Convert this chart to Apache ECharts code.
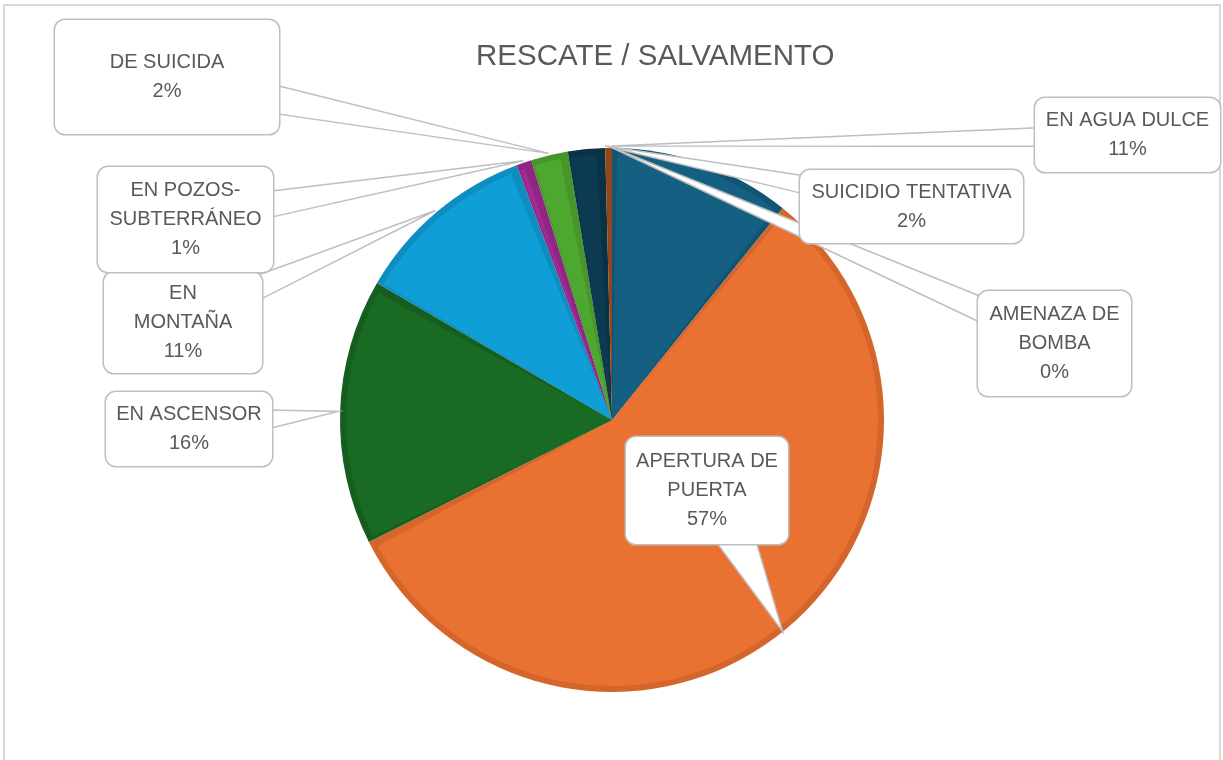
<!DOCTYPE html>
<html>
<head>
<meta charset="utf-8">
<script src="https://cdn.jsdelivr.net/npm/echarts@6/dist/echarts.min.js"></script>
<style>
  html, body { margin: 0; padding: 0; background: #fff; }
  #main { width: 1223px; height: 760px; }
</style>
</head>
<body>
<div id="main"></div>
<script>
const categories = ['EN AGUA DULCE', 'APERTURA DE PUERTA', 'EN ASCENSOR', 'EN MONTAÑA',
  'EN POZOS-SUBTERRÁNEO', 'DE SUICIDA', 'SUICIDIO TENTATIVA', 'AMENAZA DE BOMBA'];
const values = [10.8, 56.8, 15.8, 10.9, 0.9, 2.2, 2.2, 0.4];
const labelNames = ['EN AGUA DULCE', 'APERTURA DE\nPUERTA', 'EN ASCENSOR', 'EN\nMONTAÑA',
  'EN POZOS-\nSUBTERRÁNEO', 'DE SUICIDA', 'SUICIDIO TENTATIVA', 'AMENAZA DE\nBOMBA'];

const sliceColors = ['#156082', '#e97132', '#196b24', '#0f9ed5', '#a02b93', '#4ea72e', '#0c3a50', '#a84f1e'];
const bevelColors = ['#125473', '#d4652b', '#165e20', '#0d8ebf', '#8f2684', '#46962a', '#0a3245', '#944519'];

// callout boxes: [left, top, width, height]
const calloutBoxes = [
  [1035, 98, 185, 74],
  [626, 437, 162, 107],
  [106, 392, 166, 74],
  [104, 272, 158, 101],
  [98, 167, 175, 105],
  [55, 20, 224, 114],
  [800, 170, 223, 73],
  [978, 291, 153, 105]
];
// where along each slice the callout pointer lands (0 = start, 1 = end)
const pointerAt = [0, 0.5, 0.5, 0.5, 0.5, 0.5, 1, 0.5];

const FONT = '"Liberation Sans", Arial, sans-serif';
const TEXT = '#595959';
const LINE_H = 29;
const CENTER = [612, 420];
const R = 272;

const chart = echarts.init(document.getElementById('main'));

chart.setOption({
  animation: false,
  backgroundColor: '#fff',
  title: {
    text: 'RESCATE / SALVAMENTO',
    left: 471,
    top: 37,
    textStyle: { color: TEXT, fontSize: 29.5, fontWeight: 'normal', fontFamily: FONT }
  },
  series: [
    {
      // darker base gives the bevelled edge
      type: 'pie',
      center: CENTER,
      radius: R,
      startAngle: 90,
      silent: true,
      label: { show: false },
      labelLine: { show: false },
      data: categories.map((n, i) => ({ name: n, value: values[i], itemStyle: { color: bevelColors[i] } }))
    },
    {
      type: 'pie',
      center: CENTER,
      radius: R - 6,
      startAngle: 90,
      padAngle: 2.2,
      silent: true,
      z: 3,
      label: { show: false },
      labelLine: { show: false },
      data: categories.map((n, i) => ({ name: n, value: values[i], itemStyle: { color: sliceColors[i] } }))
    },
    {
      // label layer, kept above the callout pointers
      type: 'pie',
      center: CENTER,
      radius: R,
      startAngle: 90,
      zlevel: 2,
      silent: true,
      avoidLabelOverlap: false,
      itemStyle: { color: 'rgba(0,0,0,0)' },
      label: {
        show: true,
        position: 'outer',
        alignTo: 'none',
        overflow: 'none',
        color: TEXT,
        fontSize: 20,
        fontFamily: FONT,
        lineHeight: LINE_H,
        align: 'center',
        backgroundColor: '#fff',
        borderColor: '#bfbfbf',
        borderWidth: 1.5,
        borderRadius: 10,
        formatter: p => labelNames[p.dataIndex] + '\n' + Math.round(p.percent) + '%'
      },
      labelLine: { show: false },
      labelLayout: p => {
        const b = calloutBoxes[p.dataIndex];
        return { x: b[0] + b[2] / 2, y: b[1] + b[3] / 2, align: 'center', verticalAlign: 'middle' };
      },
      data: categories.map((n, i) => {
        const b = calloutBoxes[i];
        const lines = labelNames[i].split('\n').length + 1;
        const pv = Math.max(0, (b[3] - lines * LINE_H) / 2);
        return { name: n, value: values[i], label: { width: b[2], padding: [pv, 0, pv, 0] } };
      })
    }
  ]
});

// callout pointers: white wedges from each box to its slice
const sliceData = chart.getModel().getSeriesByIndex(0).getData();
const wedges = calloutBoxes.map((b, i) => {
  const lay = sliceData.getItemLayout(i);
  const ang = lay.startAngle + (lay.endAngle - lay.startAngle) * pointerAt[i];
  const rr = i === 1 ? lay.r : lay.r + 2;
  const ax = lay.cx + rr * Math.cos(ang);
  const ay = lay.cy + rr * Math.sin(ang);
  const bx = b[0] + b[2] / 2, by = b[1] + b[3] / 2;
  const dx = ax - bx, dy = ay - by;
  const tx = dx === 0 ? Infinity : (b[2] / 2) / Math.abs(dx);
  const ty = dy === 0 ? Infinity : (b[3] / 2) / Math.abs(dy);
  let p1, p2;
  if (tx < ty) {
    const px = bx + dx * tx - Math.sign(dx) * 3, py = by + dy * tx;
    const h = b[3] * 0.125;
    p1 = [px, py - h]; p2 = [px, py + h];
  } else {
    const px = bx + dx * ty, py = by + dy * ty - Math.sign(dy) * 3;
    const h = b[2] * 0.125;
    p1 = [px - h, py]; p2 = [px + h, py];
  }
  return {
    type: 'polygon',
    zlevel: 1,
    silent: true,
    shape: { points: [p1, [ax, ay], p2] },
    style: { fill: '#fff', stroke: '#bfbfbf', lineWidth: 1.5 }
  };
});

chart.setOption({
  graphic: [
    {
      type: 'rect',
      silent: true,
      shape: { x: 4, y: 5, width: 1216, height: 800 },
      style: { fill: 'none', stroke: '#d9d9d9', lineWidth: 2 }
    }
  ].concat(wedges)
});
</script>
</body>
</html>
